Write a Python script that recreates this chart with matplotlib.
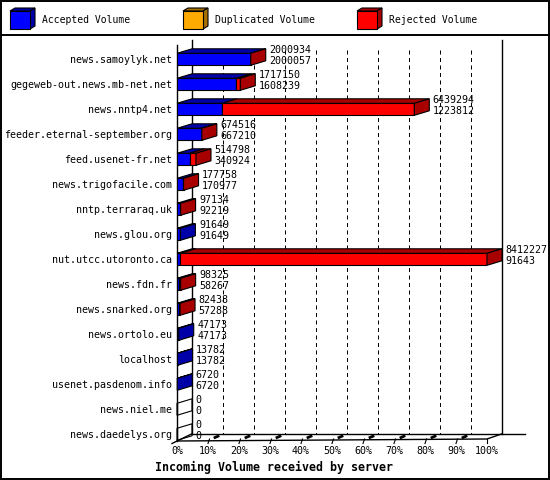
import matplotlib
matplotlib.use('Agg')
import matplotlib.pyplot as plt
from matplotlib.patches import Polygon, Rectangle
from matplotlib.transforms import IdentityTransform, offset_copy

servers = ['news.samoylyk.net', 'gegeweb-out.news.mb-net.net', 'news.nntp4.net',
           'feeder.eternal-september.org', 'feed.usenet-fr.net', 'news.trigofacile.com',
           'nntp.terraraq.uk', 'news.glou.org', 'nut.utcc.utoronto.ca', 'news.fdn.fr',
           'news.snarked.org', 'news.ortolo.eu', 'localhost', 'usenet.pasdenom.info',
           'news.niel.me', 'news.daedelys.org']
total = [2000934, 1717150, 6439294, 674516, 514798, 177758, 97134, 91649,
         8412227, 98325, 82438, 47173, 13782, 6720, 0, 0]
accepted = [2000057, 1608239, 1223812, 667210, 340924, 170977, 92219, 91649,
            91643, 58267, 57288, 47173, 13782, 6720, 0, 0]
duplicated = [0] * 16
rejected = [t - a - d for t, a, d in zip(total, accepted, duplicated)]
tick_labels = ['%d%%' % (10 * k) for k in range(11)]
legend_names = ['Accepted Volume', 'Duplicated Volume', 'Rejected Volume']

colors = ['#0000ff', '#ffaa00', '#ff0000']
darks = ['#0000a8', '#a87000', '#a80000']

plt.rcParams['font.family'] = 'DejaVu Sans Mono'
W, H = 550, 480
fig = plt.figure(figsize=(W / 100, H / 100), dpi=100)

# decoration layer in top-down pixel coordinates (drawn below the bars)
deco = fig.add_axes([0, 0, 1, 1])
deco.set_xlim(0, W)
deco.set_ylim(H, 0)
deco.axis('off')

# main axes: front face of the 3D plot
FL, FR, TOP, FLOOR = 177, 487, 40, 441
Y0, STEP = 59.3, 25.0
ax = fig.add_axes([FL / W, (H - FLOOR) / H, (FR - FL) / W, (FLOOR - TOP) / H])
ax.patch.set_visible(False)
xmax = max(total)
ax.set_xlim(0, xmax)
ax.set_ylim((FLOOR - Y0) / STEP, (TOP - Y0) / STEP)
for s in ax.spines.values():
    s.set_visible(False)

n = len(servers)
ypos = list(range(n))
ax.set_yticks(ypos, servers, fontsize=7.2)
ax.set_xticks([k * xmax / 10 for k in range(11)], tick_labels, fontsize=7.2)
ax.tick_params(axis='y', length=0, pad=3.6)
ax.tick_params(axis='x', length=0, pad=3.4)

BH = 0.48
DX, DY = 15, 4.5       # bar depth in pixels (display, y up)
FDX, FDY = 14.5, 7     # floor depth

def disp(x, y):
    return ax.transData.transform((x, y))

def td(p):
    # display -> top-down pixels
    return (p[0], H - p[1])

# walls, floor and grid
x0 = td(disp(0, 0))[0]
x100 = td(disp(xmax, 0))[0]
bl = x0 + FDX
br = x100 + FDX
back_floor = FLOOR - FDY
kw = dict(color='black', lw=1)
deco.plot([bl, bl], [TOP, back_floor], **kw)
deco.plot([br, br], [TOP, back_floor], **kw)
deco.plot([x0, x0], [TOP + 5, FLOOR], **kw)
deco.plot([bl, br + 23], [back_floor, back_floor], **kw)
deco.plot([x0, x100, br], [FLOOR, FLOOR - 2, back_floor], **kw)
deco.plot([x0 - 5, bl], [FLOOR + 2.5, back_floor], **kw)
for k in range(1, 10):
    gx = td(disp(k * xmax / 10, 0))[0]
    deco.plot([gx + FDX, gx + FDX], [TOP + 10, back_floor], color='black',
              lw=0.72, linestyle=(0, (4, 3.5)))
    deco.plot([gx, gx + 1.5], [FLOOR + 2.5, FLOOR - 2], color='black', lw=0.8)
    deco.plot([gx + 7, gx + 10], [FLOOR - 3.5, FLOOR - 4.8], color='black', lw=2)
deco.plot([x100, x100], [FLOOR - 2, FLOOR + 2], color='black', lw=0.8)

# front faces of the stacked bars
left = [0] * n
for vals, c in zip([accepted, duplicated, rejected], colors):
    ax.barh(ypos, vals, left=left, height=BH, color=c, edgecolor='black',
            linewidth=0.8, zorder=3)
    left = [l + v for l, v in zip(left, vals)]

# top and right faces
ident = IdentityTransform()
for i in range(n):
    segs = [(0, accepted[i], 0),
            (accepted[i], duplicated[i], 1),
            (accepted[i] + duplicated[i], rejected[i], 2)]
    last = None
    for start, w, ci in segs:
        if w <= 0:
            continue
        last = ci
        p0 = disp(start, i - BH / 2)
        p1 = disp(start + w, i - BH / 2)
        poly = [p0, p1, (p1[0] + DX, p1[1] + DY), (p0[0] + DX, p0[1] + DY)]
        ax.add_patch(Polygon(poly, closed=True, facecolor=darks[ci], edgecolor='black',
                             lw=0.8, transform=ident, clip_on=False, zorder=4))
    pt = disp(total[i], i - BH / 2)
    pb = disp(total[i], i + BH / 2)
    poly = [pb, pt, (pt[0] + DX, pt[1] + DY), (pb[0] + DX, pb[1] + DY)]
    fc = darks[last] if last is not None else 'none'
    ax.add_patch(Polygon(poly, closed=True, facecolor=fc, edgecolor='black',
                         lw=0.8, transform=ident, clip_on=False, zorder=4))
    ax.text(total[i], i, str(total[i]), fontsize=7.2, va='center', ha='left',
            transform=offset_copy(ax.transData, fig=fig, x=18.5, y=9.5, units='dots'))
    ax.text(total[i], i, str(accepted[i]), fontsize=7.2, va='center', ha='left',
            transform=offset_copy(ax.transData, fig=fig, x=18.5, y=-1.5, units='dots'))

# legend
for lx, name, c, d in zip([10, 183, 357], legend_names, colors, darks):
    deco.add_patch(Polygon([(lx, 11), (lx + 5, 8), (lx + 25, 8), (lx + 20, 11)],
                           closed=True, facecolor=d, edgecolor='black', lw=0.8))
    deco.add_patch(Polygon([(lx + 20, 11), (lx + 25, 8), (lx + 25, 26), (lx + 20, 29)],
                           closed=True, facecolor=d, edgecolor='black', lw=0.8))
    deco.add_patch(Rectangle((lx, 11), 20, 18, facecolor=c, edgecolor='black', lw=0.8))
    deco.text(lx + 32, 20, name, fontsize=7, va='center', ha='left')

deco.plot([0, W], [35, 35], color='black', lw=1.4)
deco.add_patch(Rectangle((0.7, 0.7), W - 1.4, H - 1.4, facecolor='none',
                         edgecolor='black', lw=1.4))

fig.text(155 / W, 1 - 467 / H, 'Incoming Volume received by server', fontsize=8.4,
         fontweight='bold', va='center', ha='left')

fig.savefig('out.png', dpi=100)
